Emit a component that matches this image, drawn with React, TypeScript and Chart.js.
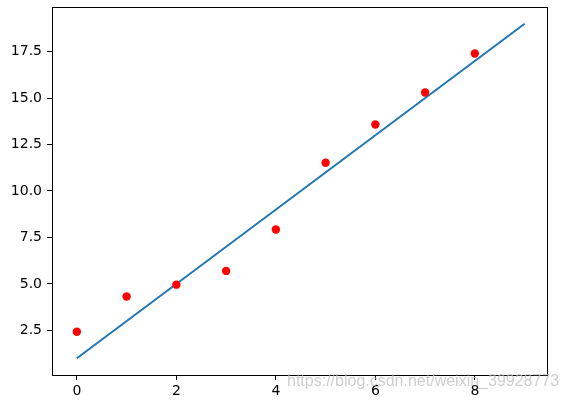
import React, { useEffect, useRef } from "react";
import { Chart, registerables } from "chart.js";

Chart.register(...registerables);

const pointX = [0, 1, 2, 3, 4, 5, 6, 7, 8];
const pointY = [2.43, 4.32, 4.96, 5.7, 7.93, 11.52, 13.58, 15.3, 17.4];
const lineX = [0, 9];
const lineY = [1, 19];
const xTicks = [0, 2, 4, 6, 8];
const yTicks = [2.5, 5.0, 7.5, 10.0, 12.5, 15.0, 17.5];
const watermark = "https://blog.csdn.net/weixin_39928773";

const framePlugin = {
  id: "frame",
  afterDraw(chart: any) {
    const { ctx, chartArea } = chart;
    ctx.save();
    ctx.strokeStyle = "#000";
    ctx.lineWidth = 1;
    ctx.strokeRect(
      Math.round(chartArea.left) + 0.5,
      Math.round(chartArea.top) + 0.5,
      Math.round(chartArea.right - chartArea.left),
      Math.round(chartArea.bottom - chartArea.top)
    );
    ctx.font = "16px 'Liberation Sans', Arial, sans-serif";
    ctx.fillStyle = "rgba(190,190,190,0.75)";
    ctx.textBaseline = "middle";
    ctx.textAlign = "left";
    ctx.fillText(watermark, 287, 382);
    ctx.restore();
  },
};

export default function App() {
  const ref = useRef<HTMLCanvasElement | null>(null);
  useEffect(() => {
    document.body.style.margin = "0";
    const canvas = ref.current!;
    const chart = new Chart(canvas, {
      type: "scatter",
      data: {
        datasets: [
          {
            data: lineX.map((x, i) => ({ x, y: lineY[i] })),
            showLine: true,
            borderColor: "#1f77b4",
            borderWidth: 2,
            pointRadius: 0,
            order: 2,
          },
          {
            data: pointX.map((x, i) => ({ x, y: pointY[i] })),
            backgroundColor: "#ff0000",
            borderColor: "#ff0000",
            pointRadius: 4.2,
            borderWidth: 0,
            order: 1,
          },
        ],
      },
      options: {
        animation: false,
        responsive: false,
        layout: { padding: { left: 0, right: 21, top: 7, bottom: 0 } },
        plugins: { legend: { display: false }, tooltip: { enabled: false } },
        scales: {
          x: {
            type: "linear",
            min: -0.5,
            max: 9.45,
            afterBuildTicks: (s: any) => {
              s.ticks = xTicks.map((v) => ({ value: v }));
            },
            afterFit: (s: any) => {
              s.height = 26;
              s.paddingLeft = 0;
              s.paddingRight = 0;
            },
            grid: { drawOnChartArea: false, drawTicks: true, tickLength: 5, color: "#000" },
            border: { display: true, color: "#000" },
            ticks: {
              color: "#000",
              padding: 3,
              font: { family: "'DejaVu Sans'", size: 14 },
              maxRotation: 0,
              callback: (v: any) => String(v),
            },
          },
          y: {
            type: "linear",
            min: 0.1,
            max: 19.9,
            afterBuildTicks: (s: any) => {
              s.ticks = yTicks.map((v) => ({ value: v }));
            },
            afterFit: (s: any) => {
              s.width = 52;
              s.paddingTop = 0;
              s.paddingBottom = 0;
            },
            grid: { drawOnChartArea: false, drawTicks: true, tickLength: 5, color: "#000" },
            border: { display: true, color: "#000" },
            ticks: {
              color: "#000",
              padding: 5,
              font: { family: "'DejaVu Sans'", size: 14 },
              callback: (v: any) => Number(v).toFixed(1),
            },
          },
        },
      },
      plugins: [framePlugin],
    } as any);
    return () => chart.destroy();
  }, []);
  return (
    <div style={{ width: 568, height: 401, background: "#fff" }}>
      <canvas ref={ref} width={568} height={401} style={{ display: "block" }} />
    </div>
  );
}
